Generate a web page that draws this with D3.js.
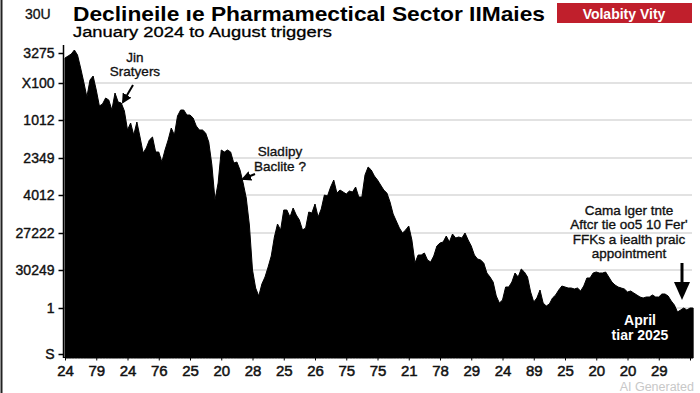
<!DOCTYPE html>
<html>
<head>
<meta charset="utf-8">
<script src="https://cdn.jsdelivr.net/npm/d3@7"></script>
<style>
  html, body { margin: 0; padding: 0; background: #fff; }
  svg { display: block; font-family: "Liberation Sans", Arial, sans-serif; }
</style>
</head>
<body>
<div id="chart"></div>
<script>
// sector index, one reading every tenth of an x-tick step
const indexValues = [
  300, 302, 304, 308, 303, 290, 276, 261, 278, 282,
  268, 252, 254, 260, 258, 248, 265, 256, 255, 247,
  228, 235, 223, 236, 221, 205, 210, 218, 221, 206,
  206, 196, 208, 218, 230, 223, 242, 248, 248, 243,
  243, 240, 232, 228, 228, 225, 216, 193, 158, 175,
  208, 206, 208, 206, 195, 196, 188, 175, 160, 133,
  88, 70, 62, 74, 81, 91, 102, 121, 134, 128,
  148, 148, 141, 150, 143, 138, 128, 130, 146, 145,
  154, 141, 149, 163, 162, 171, 178, 165, 168, 166,
  164, 167, 166, 171, 161, 161, 183, 191, 188, 182,
  178, 173, 168, 165, 156, 144, 137, 130, 125, 128,
  132, 118, 95, 103, 103, 105, 98, 96, 102, 112,
  115, 116, 122, 116, 124, 120, 121, 120, 125, 118,
  112, 103, 99, 98, 95, 85, 81, 76, 62, 55,
  58, 71, 71, 76, 85, 81, 89, 86, 81, 66,
  56, 60, 68, 55, 52, 54, 60, 63, 68, 72,
  71, 70, 70, 69, 70, 67, 72, 80, 80, 85,
  86, 85, 85, 86, 81, 76, 73, 71, 70, 69,
  66, 67, 65, 63, 61, 60, 61, 61, 63, 61,
  61, 64, 64, 62, 57, 53, 46, 48, 50, 48,
  50, 50
];

const xTickLabels = ["24", "79", "24", "76", "25", "20", "28", "25", "26", "75",
  "75", "21", "78", "29", "24", "89", "25", "20", "20", "29", ""];

const yTickValues = [305, 275, 238, 200, 163, 125, 88, 50, 4];
const yTickLabels = ["3275", "X100", "1012", "2349", "4012", "27222", "30249", "1", "S"];
const gridValues = [275, 238, 200, 163, 125, 88, 50];

const width = 700, height = 393;

const svg = d3.select("#chart").append("svg")
  .attr("width", width)
  .attr("height", height);

const x = d3.scaleLinear().domain([0, 20]).range([65, 690]);
const y = d3.scaleLinear().domain([0, 312]).range([358, 46]);

// frame on the left edge
svg.append("line")
  .attr("x1", 1.5).attr("x2", 1.5).attr("y1", 0).attr("y2", height)
  .attr("stroke", "#222").attr("stroke-width", 2);

// grid
svg.append("g")
  .selectAll("line")
  .data(gridValues)
  .join("line")
  .attr("x1", 64).attr("x2", 692)
  .attr("y1", d => y(d)).attr("y2", d => y(d))
  .attr("stroke", "#d8d8d8")
  .attr("stroke-width", 1.5);

// area
const area = d3.area()
  .x((d, i) => x(i / 10))
  .y0(y(0))
  .y1(d => y(d))
  .curve(d3.curveLinear);

svg.append("path")
  .datum(indexValues)
  .attr("d", area)
  .attr("fill", "#000")
  .attr("stroke", "#000")
  .attr("stroke-width", 1)
  .attr("stroke-linejoin", "miter");

// axes
const yAxis = d3.axisLeft(y)
  .tickValues(yTickValues)
  .tickSize(5)
  .tickPadding(4)
  .tickFormat((d, i) => yTickLabels[i]);

svg.append("g")
  .attr("transform", "translate(63.5,0)")
  .call(yAxis)
  .call(g => g.select(".domain").attr("d", "M0,45V358").attr("stroke", "#000").attr("stroke-width", 1.5))
  .call(g => g.selectAll(".tick line").attr("stroke", "#000").attr("stroke-width", 1.5))
  .call(g => g.selectAll(".tick text")
    .attr("font-family", "Liberation Sans, Arial, sans-serif")
    .attr("font-size", 14)
    .attr("fill", "#111")
    .attr("stroke", "#111")
    .attr("stroke-width", 0.4));

const xAxis = d3.axisBottom(x)
  .tickValues(d3.range(0, 21))
  .tickSize(3)
  .tickPadding(5)
  .tickFormat((d, i) => xTickLabels[i]);

svg.append("g")
  .attr("transform", "translate(0,357.5)")
  .call(xAxis)
  .call(g => g.select(".domain").attr("d", "M63,0H692").attr("stroke", "#000").attr("stroke-width", 1.2))
  .call(g => g.selectAll(".tick line").attr("stroke", "#000"))
  .call(g => g.selectAll(".tick text")
    .attr("font-family", "Liberation Sans, Arial, sans-serif")
    .attr("font-size", 15)
    .attr("fill", "#111")
    .attr("stroke", "#111")
    .attr("stroke-width", 0.5));

// titles
svg.append("text")
  .attr("x", 25).attr("y", 19)
  .attr("font-size", 14)
  .attr("fill", "#111")
  .attr("stroke", "#111")
  .attr("stroke-width", 0.3)
  .text("30U");

svg.append("text")
  .attr("x", 73).attr("y", 20.5)
  .attr("font-size", 21)
  .attr("font-weight", "bold")
  .attr("textLength", 472)
  .attr("lengthAdjust", "spacingAndGlyphs")
  .text("Declineile ıe Pharmamectical Sector IIMaies");

svg.append("text")
  .attr("x", 73).attr("y", 37)
  .attr("font-size", 15.5)
  .attr("textLength", 259)
  .attr("lengthAdjust", "spacingAndGlyphs")
  .attr("stroke", "#000")
  .attr("stroke-width", 0.3)
  .text("January 2024 to August triggers");

svg.append("rect")
  .attr("x", 557).attr("y", 3)
  .attr("width", 135).attr("height", 20)
  .attr("fill", "#c01f2c");

svg.append("text")
  .attr("x", 624).attr("y", 18.5)
  .attr("text-anchor", "middle")
  .attr("font-size", 14)
  .attr("font-weight", "bold")
  .attr("fill", "#fff")
  .text("Volabity Vity");

// annotations
const defs = svg.append("defs");
defs.append("marker")
  .attr("id", "head")
  .attr("viewBox", "0 0 10 10")
  .attr("refX", 8).attr("refY", 5)
  .attr("markerWidth", 5).attr("markerHeight", 5)
  .attr("orient", "auto")
  .append("path").attr("d", "M0,0L10,5L0,10z").attr("fill", "#000");

function label(lines, cx, cy, size, step, color, weight) {
  svg.append("g").selectAll("text")
    .data(lines)
    .join("text")
    .attr("x", cx)
    .attr("y", (d, i) => cy + i * step)
    .attr("text-anchor", "middle")
    .attr("font-size", size)
    .attr("font-weight", weight || "normal")
    .attr("fill", color)
    .attr("stroke", weight ? "none" : color)
    .attr("stroke-width", 0.35)
    .text(d => d);
}

label(["Jin", "Sratyers"], 135, 62, 13.5, 14, "#111");
svg.append("line")
  .attr("x1", 133).attr("y1", 85).attr("x2", 123).attr("y2", 102)
  .attr("stroke", "#000").attr("stroke-width", 2)
  .attr("marker-end", "url(#head)");

label(["Sladipy", "Baclite ?"], 280, 156, 13.5, 15, "#111");
svg.append("line")
  .attr("x1", 255).attr("y1", 174).attr("x2", 243).attr("y2", 179)
  .attr("stroke", "#000").attr("stroke-width", 2)
  .attr("marker-end", "url(#head)");

label(["Cama lger tnte", "Aftcr tie oo5 10 Fer'", "FFKs a  iealth praic", "appointment"],
  629, 215, 13.5, 14.3, "#111");
svg.append("line")
  .attr("x1", 682).attr("y1", 263).attr("x2", 682).attr("y2", 286)
  .attr("stroke", "#000").attr("stroke-width", 3);
svg.append("path")
  .attr("d", "M674,282L690,282L682,300Z")
  .attr("fill", "#000");

label(["April", "tiar 2025"], 640, 325, 14, 14.5, "#fff", "bold");

svg.append("text")
  .attr("x", 694).attr("y", 390.5)
  .attr("text-anchor", "end")
  .attr("font-size", 12.5)
  .attr("fill", "#c8c8c8")
  .text("AI Generated");
</script>
</body>
</html>
